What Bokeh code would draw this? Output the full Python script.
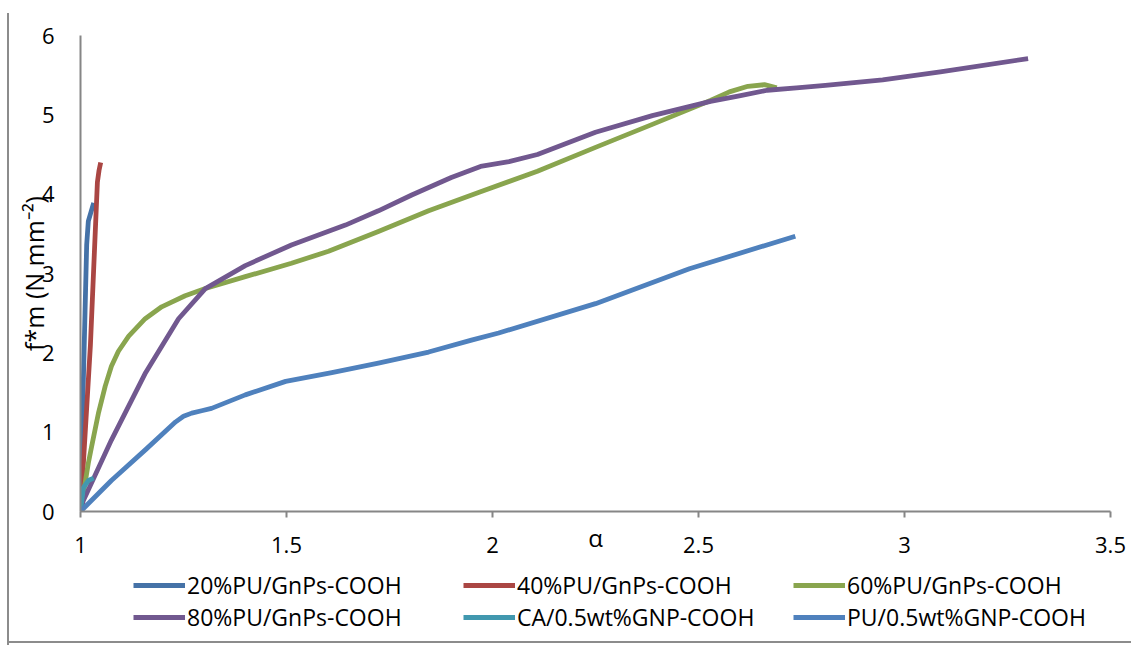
from bokeh.plotting import figure
from bokeh.layouts import column
from bokeh.models import (FixedTicker, Legend, LegendItem, Range1d,
                          InlineStyleSheet)
from bokeh.embed import file_html
from bokeh.resources import INLINE

# ---- data -------------------------------------------------------------
series_names = [
    "20%PU/GnPs-COOH",
    "40%PU/GnPs-COOH",
    "60%PU/GnPs-COOH",
    "80%PU/GnPs-COOH",
    "CA/0.5wt%GNP-COOH",
    "PU/0.5wt%GNP-COOH",
]
series_colors = ["#4572A7", "#AA4643", "#89A54E", "#71588F", "#4198AF", "#4F81BD"]

pu20_alpha = [1.0, 1.005, 1.011, 1.015, 1.019, 1.032]
pu20_force = [0.0, 1.25, 2.51, 3.36, 3.66, 3.89]

pu40_alpha = [1.0, 1.024, 1.041, 1.045, 1.049]
pu40_force = [0.0, 2.09, 4.15, 4.30, 4.40]

pu60_alpha = [1.0, 1.019, 1.027, 1.044, 1.060, 1.075, 1.092, 1.117, 1.157,
              1.197, 1.254, 1.303, 1.40, 1.512, 1.602, 1.723, 1.845, 1.971,
              2.109, 2.25, 2.388, 2.529, 2.575, 2.62, 2.66, 2.69]
pu60_force = [0.0, 0.61, 0.82, 1.25, 1.58, 1.83, 2.02, 2.21, 2.43,
              2.58, 2.72, 2.81, 2.96, 3.13, 3.28, 3.53, 3.79, 4.03,
              4.29, 4.59, 4.88, 5.18, 5.29, 5.36, 5.38, 5.34]

pu80_alpha = [1.0, 1.007, 1.075, 1.158, 1.238, 1.303, 1.40, 1.512, 1.643,
              1.723, 1.804, 1.90, 1.971, 2.04, 2.109, 2.25, 2.388, 2.529,
              2.599, 2.667, 2.738, 2.808, 2.947, 3.087, 3.30]
pu80_force = [0.0, 0.14, 0.90, 1.75, 2.43, 2.81, 3.10, 3.36, 3.61,
              3.79, 3.99, 4.21, 4.35, 4.41, 4.50, 4.78, 4.99, 5.17,
              5.24, 5.31, 5.34, 5.37, 5.44, 5.54, 5.71]

ca_alpha = [1.0, 1.007, 1.019, 1.032]
ca_force = [0.0, 0.30, 0.39, 0.42]

pu_alpha = [1.0, 1.075, 1.158, 1.231, 1.25, 1.270, 1.294, 1.318, 1.40, 1.498,
            1.61, 1.723, 1.845, 1.949, 2.015, 2.25, 2.478, 2.735]
pu_force = [0.0, 0.39, 0.78, 1.13, 1.20, 1.24, 1.27, 1.30, 1.47, 1.64,
            1.75, 1.87, 2.01, 2.16, 2.25, 2.62, 3.06, 3.47]

series_x = [pu20_alpha, pu40_alpha, pu60_alpha, pu80_alpha, ca_alpha, pu_alpha]
series_y = [pu20_force, pu40_force, pu60_force, pu80_force, ca_force, pu_force]

x_ticks = [1, 1.5, 2, 2.5, 3, 3.5]
x_tick_labels = ["1", "1.5", "2", "2.5", "3", "3.5"]
y_ticks = [0, 1, 2, 3, 4, 5, 6]
y_tick_labels = ["0", "1", "2", "3", "4", "5", "6"]

x_title = "α"
y_title = "f*m (N mm⁻²)"

# ---- styling constants -------------------------------------------------
FONT = "Open Sans"
AXIS_GREY = "#868686"
LINE_W = 4.8
W = 1131
PLOT_H = 567
LEGEND_H = 78

# ---- main chart --------------------------------------------------------
p = figure(width=W, height=PLOT_H, output_backend="svg", toolbar_location=None,
           x_range=Range1d(1, 3.5), y_range=Range1d(0, 6),
           min_border_left=80, min_border_right=21,
           min_border_top=35, min_border_bottom=56)
p.outline_line_color = None
p.grid.visible = False
p.background_fill_color = "white"
p.border_fill_color = "white"

xa = p.xaxis[0]
xa.ticker = FixedTicker(ticks=x_ticks)
xa.major_label_overrides = dict(zip(x_ticks, x_tick_labels))
xa.minor_tick_line_color = None
xa.major_tick_in = 0
xa.major_tick_out = 6
xa.major_tick_line_color = AXIS_GREY
xa.major_tick_line_width = 2
xa.axis_line_color = AXIS_GREY
xa.axis_line_width = 2
xa.major_label_standoff = 19
xa.major_label_text_font = FONT
xa.major_label_text_font_size = "22px"
xa.major_label_text_color = "black"
xa.axis_label = x_title
xa.axis_label_standoff = -35
xa.axis_label_text_font = FONT
xa.axis_label_text_font_size = "24px"
xa.axis_label_text_font_style = "normal"
xa.axis_label_text_color = "black"

ya = p.yaxis[0]
ya.ticker = FixedTicker(ticks=y_ticks)
ya.major_label_overrides = dict(zip(y_ticks, y_tick_labels))
ya.minor_tick_line_color = None
ya.major_tick_in = 0
ya.major_tick_out = 0
ya.axis_line_color = AXIS_GREY
ya.axis_line_width = 2
ya.major_label_standoff = 26
ya.major_label_text_font = FONT
ya.major_label_text_font_size = "22px"
ya.major_label_text_color = "black"
ya.axis_label = y_title
ya.axis_label_standoff = -12
ya.axis_label_text_font = FONT
ya.axis_label_text_font_size = "25px"
ya.axis_label_text_font_style = "normal"
ya.axis_label_text_color = "black"

for xs, ys, col in zip(series_x, series_y, series_colors):
    p.line(xs, ys, line_color=col, line_width=LINE_W, line_join="round")

# ---- legend strip under the chart (frame aligned with the chart's) -----
leg = figure(width=W, height=LEGEND_H, output_backend="svg", toolbar_location=None,
             x_range=Range1d(0, 1), y_range=Range1d(0, 1),
             x_axis_location=None, y_axis_location=None,
             min_border=0)
leg.outline_line_color = None
leg.grid.visible = False
leg.background_fill_color = "white"
leg.border_fill_color = "white"

key_renderers = []
for xs, ys, col in zip(series_x, series_y, series_colors):
    r = leg.line(xs, ys, line_color=col, line_width=LINE_W)
    r.visible = False
    key_renderers.append(r)

legend = Legend(
    items=[LegendItem(label=n, renderers=[r]) for n, r in zip(series_names, key_renderers)],
    location=(53, 12), orientation="horizontal", ncols=3,
    glyph_width=52, glyph_height=32, label_height=32, label_width=276,
    label_standoff=2, spacing=0, padding=0, margin=0,
    border_line_color=None, background_fill_alpha=0,
    inactive_fill_alpha=0,
    label_text_font=FONT, label_text_font_size="23px", label_text_color="black",
)
leg.add_layout(legend, "center")

# thin grey edges on the left and bottom of the whole chart
chart_edges = InlineStyleSheet(css="""
:host { position: relative; }
:host::before {
  content: ""; position: absolute; left: 7px; top: 13px;
  width: 2px; height: 632px; background: #8C8C8C; z-index: 5;
}
:host::after {
  content: ""; position: absolute; left: 7px; top: 641px;
  width: 1124px; height: 2px; background: #8C8C8C; z-index: 5;
}
""")

page = column(p, leg, spacing=0, stylesheets=[chart_edges])

open("out.html", "w").write(file_html(page, INLINE))
